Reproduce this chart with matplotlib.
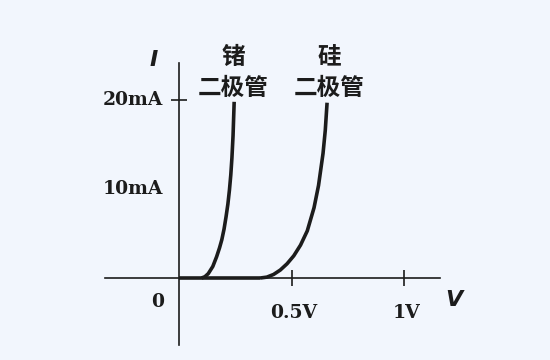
import matplotlib
matplotlib.use("Agg")
import matplotlib.pyplot as plt

# forward characteristic, voltage in V, current in mA
ge_v = [0.10, 0.115, 0.13, 0.15, 0.167, 0.18, 0.19, 0.20, 0.209, 0.217, 0.224, 0.23, 0.235, 0.24, 0.245]
ge_i = [0.0, 0.15, 0.5, 1.3, 2.4, 3.4, 4.3, 5.5, 6.9, 8.3, 9.9, 11.6, 13.5, 16.0, 19.8]
si_v = [0.36, 0.39, 0.42, 0.45, 0.48, 0.51, 0.54, 0.57, 0.60, 0.62, 0.64, 0.65, 0.658]
si_i = [0.0, 0.1, 0.4, 0.9, 1.6, 2.5, 3.7, 5.3, 7.9, 10.4, 14.0, 16.6, 19.7]
ge_label = ["锗", "二极管"]
si_label = ["硅", "二极管"]
x_ticks = [0.5, 1.0]
x_tick_labels = ["0.5V", "1V"]
y_ticks = [10, 20]
y_tick_labels = ["10mA", "20mA"]

bg = "#f2f6fd"
ink = "#1c1c1c"

fig = plt.figure(figsize=(5.5, 3.6), dpi=100, facecolor=bg)
ax = fig.add_axes([0, 0, 1, 1], facecolor=bg)
ax.set_xlim(-0.796, 1.649)
ax.set_ylim(-9.21, 31.24)

for s in ["top", "right"]:
    ax.spines[s].set_visible(False)
ax.spines["left"].set_position(("data", 0))
ax.spines["bottom"].set_position(("data", 0))
ax.spines["left"].set_bounds(-7.5, 24.2)
ax.spines["bottom"].set_bounds(-0.33, 1.16)
for s in ["left", "bottom"]:
    ax.spines[s].set_color(ink)
    ax.spines[s].set_linewidth(1.2)
ax.set_xticks(x_ticks)
ax.set_yticks([20])
ax.tick_params(axis="both", direction="inout", length=12, width=1.2, color=ink,
               labelbottom=False, labelleft=False)

line = dict(color=ink, lw=2.6, solid_joinstyle="round", solid_capstyle="butt")
ax.plot(ge_v, ge_i, **line)
ax.plot(si_v, si_i, **line)
ax.plot([0, si_v[0]], [0, 0], **line)

serif = dict(family="DejaVu Serif", fontweight="bold", color=ink, fontsize=13.5)
for v, t in zip(x_ticks, x_tick_labels):
    ax.text(v + 0.01, -3.9, t, ha="center", va="center", **serif)
for i, t in zip(y_ticks, y_tick_labels):
    ax.text(-0.205, i, t, ha="center", va="center", **serif)
ax.text(-0.095, -2.7, "0", ha="center", va="center", **serif)
ax.text(1.22, -2.5, "V", ha="center", va="center", style="italic",
        family="DejaVu Sans", fontweight="bold", color=ink, fontsize=16)
ax.text(-0.115, 24.5, "I", ha="center", va="center", style="italic",
        family="DejaVu Sans", fontweight="bold", color=ink, fontsize=16)

cjk = dict(family=["Noto Sans CJK SC", "DejaVu Sans"], color=ink, fontsize=17,
           fontweight="bold", ha="center", va="center")
ax.text(ge_v[-1] - 0.005, 24.8, ge_label[0], **cjk)
ax.text(ge_v[-1] - 0.005, 21.4, ge_label[1], **cjk)
ax.text(si_v[-1] + 0.01, 24.8, si_label[0], **cjk)
ax.text(si_v[-1] + 0.01, 21.4, si_label[1], **cjk)

fig.savefig("out.png", dpi=100, facecolor=bg)
